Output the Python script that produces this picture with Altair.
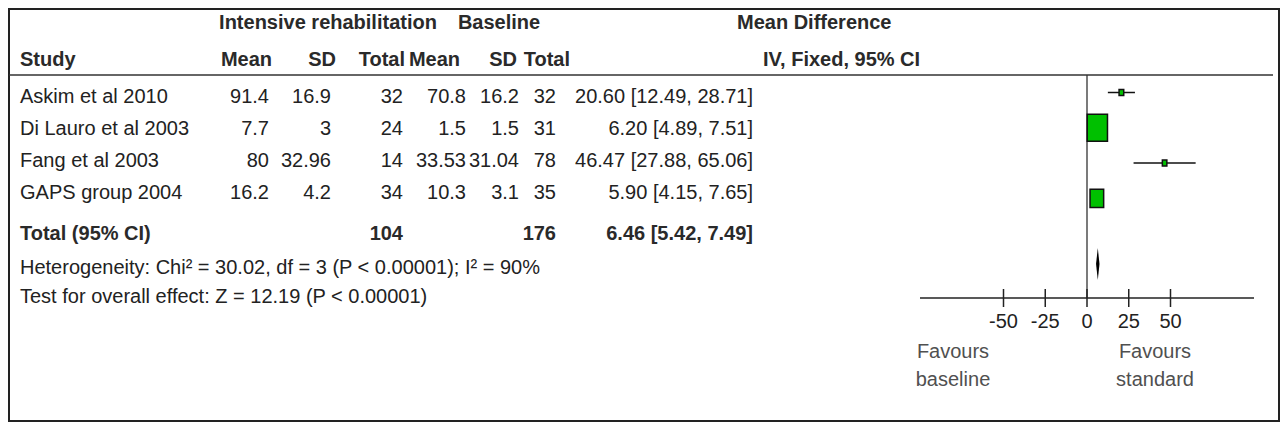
import altair as alt
import pandas as pd

# ---------------- data ----------------
studies = ["Askim et al 2010", "Di Lauro et al 2003", "Fang et al 2003", "GAPS group 2004"]
int_mean = [91.4, 7.7, 80, 16.2]
int_sd = [16.9, 3, 32.96, 4.2]
int_n = [32, 24, 14, 34]
base_mean = [70.8, 1.5, 33.53, 10.3]
base_sd = [16.2, 1.5, 31.04, 3.1]
base_n = [32, 31, 78, 35]
md = [20.60, 6.20, 46.47, 5.90]
md_lo = [12.49, 4.89, 27.88, 4.15]
md_hi = [28.71, 7.51, 65.06, 7.65]

total_int_n = 104
total_base_n = 176
total_md = 6.46
total_lo = 5.42
total_hi = 7.49

chi2 = 30.02
df_het = 3
i2 = 90
z_val = 12.19

ticks = [-50, -25, 0, 25, 50]
x_domain = [-100, 100]

# ---------------- layout ----------------
W, H = 1270, 412
OX, OY = 9, 9            # page -> view offset
FONT = "Liberation Sans"
FS = 20
INK = "#222222"
GREEN = "#00C000"

def vx(p):
    return p - OX

def vy(p):
    return p - OY

HEAD1_Y, HEAD2_Y = 23, 60
ROW_Y = [97, 129, 161, 193]
TOTAL_Y = 234
HET_Y, TEST_Y = 268, 297
FOREST_Y = [92.5, 127.8, 163.1, 198.4]
DIAMOND_Y, DIAMOND_HALF = 264, 16
RULE_Y = 75
AXIS_Y = 298
TICK_HALF = 9
TICKLAB_Y = 322
FAV_Y = [352, 380]

STUDY_X = 20
COL_RIGHT = [269, 331, 403, 466, 519, 556]   # numeric columns
HEAD_RIGHT = [272, 336, 405, 460, 517, 570]
CI_RIGHT = 753
MDHEAD_X = 737
IVHEAD_X = 763
FOREST_RANGE = [920, 1254]

PX = alt.Scale(domain=[0, W], range=[0, W], nice=False, zero=False)
PY = alt.Scale(domain=[0, H], range=[0, H], nice=False, zero=False)
MX = alt.Scale(domain=x_domain, range=[vx(FOREST_RANGE[0]), vx(FOREST_RANGE[1])], nice=False, zero=False)


def fmt(v):
    return f"{v:g}"


def ci_txt(m, l, h):
    return f"{m:.2f} [{l:.2f}, {h:.2f}]"


left_norm, left_bold, right_norm, right_bold, center_bold, fav = [], [], [], [], [], []

for i, s in enumerate(studies):
    y = vy(ROW_Y[i])
    left_norm.append((s, vx(STUDY_X), y))
    vals = [int_mean[i], int_sd[i], int_n[i], base_mean[i], base_sd[i], base_n[i]]
    for v, xr in zip(vals, COL_RIGHT):
        right_norm.append((fmt(v), vx(xr), y))
    right_norm.append((ci_txt(md[i], md_lo[i], md_hi[i]), vx(CI_RIGHT), y))

left_norm.append((f"Heterogeneity: Chi² = {chi2:.2f}, df = {df_het} (P < 0.00001); I² = {i2}%", vx(STUDY_X), vy(HET_Y)))
left_norm.append((f"Test for overall effect: Z = {z_val:.2f} (P < 0.00001)", vx(STUDY_X), vy(TEST_Y)))

left_bold += [
    ("Study", vx(STUDY_X), vy(HEAD2_Y)),
    ("Total (95% CI)", vx(STUDY_X), vy(TOTAL_Y)),
    ("Mean Difference", vx(MDHEAD_X), vy(HEAD1_Y)),
    ("IV, Fixed, 95% CI", vx(IVHEAD_X), vy(HEAD2_Y)),
]
for t, xr in zip(["Mean", "SD", "Total", "Mean", "SD", "Total"], HEAD_RIGHT):
    right_bold.append((t, vx(xr), vy(HEAD2_Y)))
right_bold += [
    (str(total_int_n), vx(COL_RIGHT[2]), vy(TOTAL_Y)),
    (str(total_base_n), vx(COL_RIGHT[5]), vy(TOTAL_Y)),
    (ci_txt(total_md, total_lo, total_hi), vx(CI_RIGHT), vy(TOTAL_Y)),
]
center_bold += [
    ("Intensive rehabilitation", vx(328), vy(HEAD1_Y)),
    ("Baseline", vx(499), vy(HEAD1_Y)),
]
fav += [
    ("Favours", vx(953), vy(FAV_Y[0])),
    ("baseline", vx(953), vy(FAV_Y[1])),
    ("Favours", vx(1155), vy(FAV_Y[0])),
    ("standard", vx(1155), vy(FAV_Y[1])),
]


def text_layer(rows, align, weight, color=INK):
    d = pd.DataFrame(rows, columns=["txt", "px", "py"])
    return alt.Chart(d).mark_text(
        align=align, baseline="middle", font=FONT, fontSize=FS, fontWeight=weight, color=color
    ).encode(
        x=alt.X("px:Q", scale=PX, axis=None),
        y=alt.Y("py:Q", scale=PY, axis=None),
        text="txt:N",
    )


layers = [
    text_layer(left_norm, "left", "normal"),
    text_layer(left_bold, "left", "bold", "#2a2a2a"),
    text_layer(right_norm, "right", "normal"),
    text_layer(right_bold, "right", "bold", "#2a2a2a"),
    text_layer(center_bold, "center", "bold", "#2a2a2a"),
    text_layer(fav, "center", "normal", "#505050"),
]

# header rule
layers.append(
    alt.Chart(pd.DataFrame({"a": [0]})).mark_rule(color="#333333", strokeWidth=1.5).encode(
        x=alt.value(0), x2=alt.value(vx(1273)), y=alt.value(vy(RULE_Y))
    )
)

# forest plot
forest = pd.DataFrame({
    "md": md, "lo": md_lo, "hi": md_hi,
    "py": [vy(v) for v in FOREST_Y],
})
se2 = [int_sd[i] ** 2 / int_n[i] + base_sd[i] ** 2 / base_n[i] for i in range(len(studies))]
wts = [1 / s for s in se2]
forest["w"] = [100 * w / sum(wts) for w in wts]

zero_df = pd.DataFrame({"x": [0], "y1": [vy(RULE_Y)], "y2": [vy(AXIS_Y)]})
layers.append(
    alt.Chart(zero_df).mark_rule(color="#333333", strokeWidth=1.3).encode(
        x=alt.X("x:Q", scale=MX, axis=None),
        y=alt.Y("y1:Q", scale=PY, axis=None), y2="y2:Q",
    )
)

axis_df = pd.DataFrame({"x1": [x_domain[0]], "x2": [x_domain[1]], "y": [vy(AXIS_Y)]})
layers.append(
    alt.Chart(axis_df).mark_rule(color="#222222", strokeWidth=1.5).encode(
        x=alt.X("x1:Q", scale=MX, axis=None), x2="x2:Q",
        y=alt.Y("y:Q", scale=PY, axis=None),
    )
)

tick_df = pd.DataFrame({
    "t": ticks,
    "y1": [vy(AXIS_Y - TICK_HALF)] * len(ticks),
    "y2": [vy(AXIS_Y + TICK_HALF)] * len(ticks),
    "ly": [vy(TICKLAB_Y)] * len(ticks),
    "lab": [str(t) for t in ticks],
})
layers.append(
    alt.Chart(tick_df).mark_rule(color="#222222", strokeWidth=1.5).encode(
        x=alt.X("t:Q", scale=MX, axis=None),
        y=alt.Y("y1:Q", scale=PY, axis=None), y2="y2:Q",
    )
)
layers.append(
    alt.Chart(tick_df).mark_text(font=FONT, fontSize=FS, color=INK, align="center", baseline="middle").encode(
        x=alt.X("t:Q", scale=MX, axis=None),
        y=alt.Y("ly:Q", scale=PY, axis=None),
        text="lab:N",
    )
)

layers.append(
    alt.Chart(forest).mark_rule(color="#111111", strokeWidth=1.5).encode(
        x=alt.X("lo:Q", scale=MX, axis=None), x2="hi:Q",
        y=alt.Y("py:Q", scale=PY, axis=None),
    )
)

BOX = "M-0.75,-1L0.75,-1L0.75,1L-0.75,1Z"
layers.append(
    alt.Chart(forest).mark_point(
        shape=BOX, filled=True, color=GREEN, stroke="#111111", strokeWidth=1.5, opacity=1
    ).encode(
        x=alt.X("md:Q", scale=MX, axis=None),
        y=alt.Y("py:Q", scale=PY, axis=None),
        size=alt.Size("w:Q", scale=alt.Scale(type="pow", exponent=1.5,
                                              domain=[min(forest["w"]), max(forest["w"])],
                                              range=[36, 729]), legend=None),
    )
)

diamond = pd.DataFrame({
    "x": [total_lo, total_md, total_hi],
    "y1": [vy(DIAMOND_Y), vy(DIAMOND_Y - DIAMOND_HALF), vy(DIAMOND_Y)],
    "y2": [vy(DIAMOND_Y), vy(DIAMOND_Y + DIAMOND_HALF), vy(DIAMOND_Y)],
})
layers.append(
    alt.Chart(diamond).mark_area(color="#000000", orient="vertical", opacity=1).encode(
        x=alt.X("x:Q", scale=MX, axis=None),
        y=alt.Y("y1:Q", scale=PY, axis=None), y2="y2:Q",
    )
)

chart = alt.layer(*layers).resolve_scale(x="independent").properties(
    width=W, height=H, padding=1,
    autosize=alt.AutoSizeParams(type="none"),
).configure_view(stroke="#222222", strokeWidth=2)

chart.save("out.html", embed_options={"renderer": "svg", "actions": False})
